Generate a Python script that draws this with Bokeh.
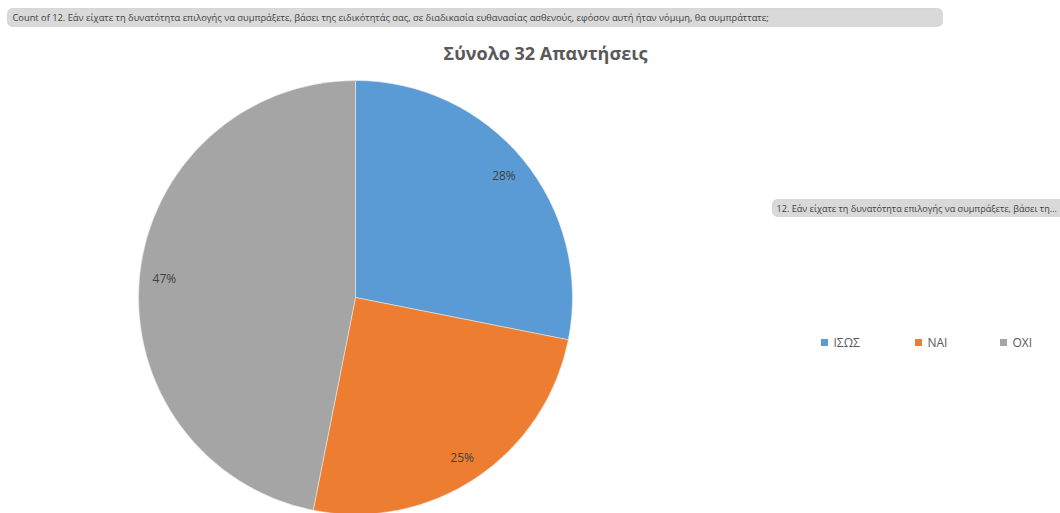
import math
from bokeh.plotting import figure
from bokeh.models import Range1d, BoxAnnotation, Label, ColumnDataSource
from bokeh.core.properties import value
from bokeh.embed import file_html
from bokeh.resources import INLINE

# ---- data ----
categories = ["ΙΣΩΣ", "ΝΑΙ", "ΟΧΙ"]
counts = [9, 8, 15]
colors = ["#5B9BD5", "#ED7D31", "#A5A5A5"]
title_text = "Σύνολο 32 Απαντήσεις"
field_text = ("Count of 12. Εάν είχατε τη δυνατότητα επιλογής να συμπράξετε, βάσει της "
              "ειδικότητάς σας, σε διαδικασία ευθανασίας ασθενούς, εφόσον αυτή ήταν νόμιμη, "
              "θα συμπράττατε;")
legend_field_text = "12. Εάν είχατε τη δυνατότητα επιλογής να συμπράξετε, βάσει τη..."

W, H = 1060, 513
FONT = "Open Sans"

def Y(sy):
    return H - sy

p = figure(width=W, height=H, output_backend="svg", toolbar_location=None,
           x_range=Range1d(0, W), y_range=Range1d(0, H), min_border=0)
p.axis.visible = False
p.grid.visible = False
p.outline_line_color = None
p.background_fill_color = "white"
p.border_fill_color = "white"

# ---- pie ----
total = sum(counts)
cx, cy, r = 355, Y(297), 217
starts, ends, lx, ly, labels = [], [], [], [], []
cum = 0.0
for c in counts:
    frac = c / total
    a_end = math.pi / 2 - cum * 2 * math.pi
    a_start = math.pi / 2 - (cum + frac) * 2 * math.pi
    starts.append(a_start)
    ends.append(a_end)
    mid = (a_start + a_end) / 2
    lx.append(cx + 0.885 * r * math.cos(mid))
    ly.append(cy + 0.885 * r * math.sin(mid))
    labels.append(f"{round(frac * 100)}%")
    cum += frac

src = ColumnDataSource(dict(cat=categories, start=starts, end=ends, color=colors,
                            lx=lx, ly=ly, lab=labels))
p.wedge(x=cx, y=cy, radius=r, start_angle="start", end_angle="end",
        fill_color="color", line_color="#f2f2f2", line_width=0.5, source=src)
p.text(x="lx", y="ly", text="lab", source=src, text_align="center",
       text_baseline="middle", text_font=value(FONT), text_font_size="12px",
       text_color="#404040")

# ---- title ----
p.add_layout(Label(x=545, y=Y(52), text=title_text, text_align="center",
                   text_baseline="middle", text_font=FONT, text_font_size="18px",
                   text_font_style="bold", text_color="#595959"))

# ---- field buttons ----
p.add_layout(BoxAnnotation(left=7, right=942, top=Y(8), bottom=Y(26),
                           fill_color="#d9d9d9", fill_alpha=1,
                           line_color="#a6a6a6", line_width=1, border_radius=5))
p.add_layout(Label(x=12, y=Y(17), text=field_text, text_baseline="middle",
                   text_font=FONT, text_font_size="9.3px", text_color="#404040"))

p.add_layout(BoxAnnotation(left=772, right=1080, top=Y(199), bottom=Y(216),
                           fill_color="#d9d9d9", fill_alpha=1,
                           line_color="#a6a6a6", line_width=1, border_radius=5))
p.add_layout(Label(x=776, y=Y(207.5), text=legend_field_text, text_baseline="middle",
                   text_font=FONT, text_font_size="9.1px", text_color="#404040"))

# ---- legend ----
leg_x = [824, 918, 1003]
leg = ColumnDataSource(dict(x=leg_x, tx=[v + 9 for v in leg_x], y=[Y(342)] * 3,
                            cat=categories, color=colors))
p.scatter(x="x", y="y", marker="square", size=7, fill_color="color",
          line_color=None, source=leg)
p.text(x="tx", y="y", text="cat", source=leg, text_baseline="middle",
       text_font=value(FONT), text_font_size="12px", text_color="#595959")

open("out.html", "w").write(file_html(p, INLINE))
